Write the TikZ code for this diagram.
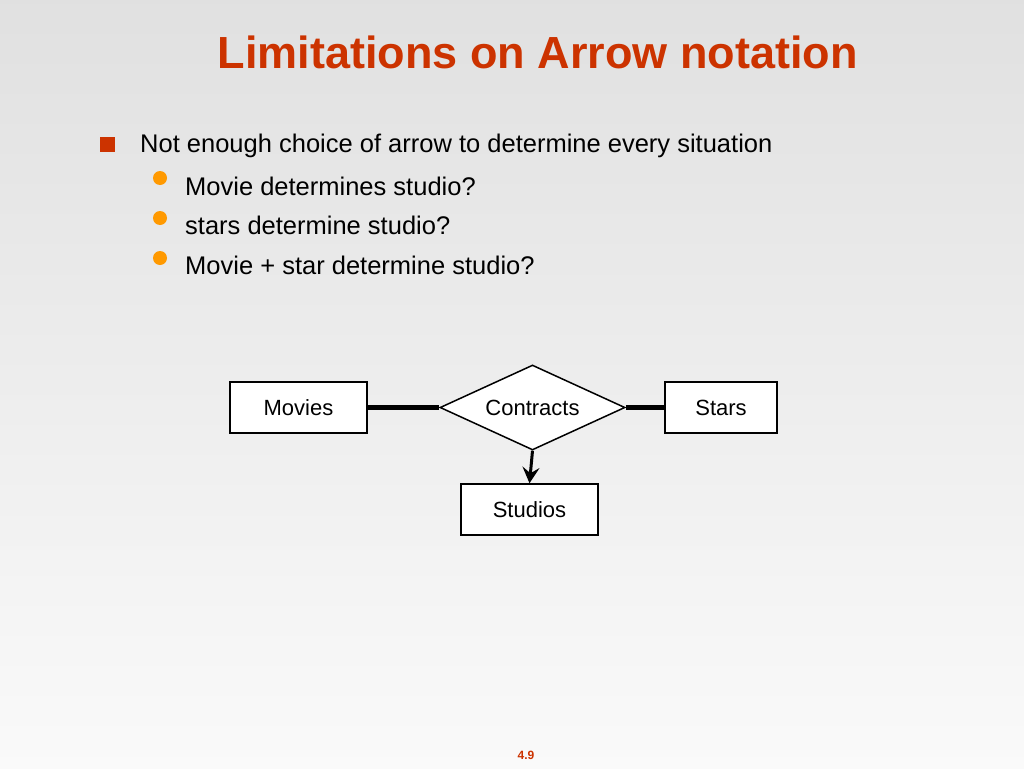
\documentclass[tikz,border=0pt]{standalone}
\usepackage{fontspec}
\setmainfont{Liberation Sans}
\usetikzlibrary{shapes.geometric,arrows.meta}
\definecolor{titlered}{HTML}{CC3300}
\definecolor{bulletorange}{HTML}{FF9900}
\begin{document}
\begin{tikzpicture}[x=1pt,y=-1pt,
  entity/.style={draw=black,line width=1.5pt,fill=white,minimum width=137pt,minimum height=51pt,inner sep=0pt,font=\fontsize{22}{26}\selectfont},
  rel/.style={draw=black,line width=1.5pt,fill=white,diamond,aspect=2.18,minimum width=185pt,minimum height=85pt,inner sep=0pt,font=\fontsize{22}{26}\selectfont},
  link/.style={line width=4.5pt},
  body/.style={anchor=west,inner sep=0pt,font=\fontsize{25.5}{30}\selectfont}]
\useasboundingbox (0,0) rectangle (1024,768);
\shade[top color=black!12,bottom color=black!2] (0,0) rectangle (1024,768);
\node[font=\bfseries\fontsize{45}{52}\selectfont,text=titlered] (title) at (537.5,52) {Limitations on Arrow notation};
\fill[titlered] (100,137) rectangle (115,152);
\node[body] (b0) at (140,146) {Not enough choice of arrow to determine every situation};
\fill[bulletorange] (160,178) circle (7);
\node[body] (b1) at (185,186) {Movie determines studio?};
\fill[bulletorange] (160,218) circle (7);
\node[body] (b2) at (185,225) {stars determine studio?};
\fill[bulletorange] (160,258) circle (7);
\node[body] (b3) at (185,265) {Movie + star determine studio?};
\node[entity] (movies) at (298.5,407.5) {Movies};
\node[rel] (contracts) at (532.5,407.5) {Contracts};
\node[entity,minimum width=112pt] (stars) at (721,407.5) {Stars};
\node[entity] (studios) at (529.5,509.5) {Studios};
\draw[link] (movies.east) -- (contracts.west);
\draw[link] (contracts.east) -- (stars.west);
\draw[line width=3pt,-{Stealth[length=16pt,width=17pt,inset=6pt]}] (contracts.south) -- (studios.north);
\node[font=\bfseries\fontsize{12}{14}\selectfont,text=titlered] (pg) at (526,755) {4.9};
\end{tikzpicture}
\end{document}
